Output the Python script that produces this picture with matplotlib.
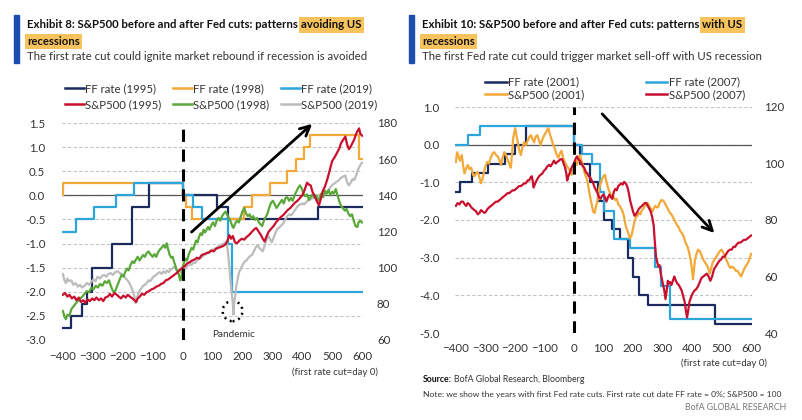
import matplotlib
matplotlib.use('Agg')
import matplotlib.pyplot as plt
from matplotlib.lines import Line2D
from matplotlib.patches import Rectangle, Ellipse

plt.rcParams['font.family'] = ['Lato', 'DejaVu Sans']

# ---------------- data: Exhibit 8 (cuts without recession) ----------------
ff1995_days = [-400, -372, -335, -320, -304, -235, -168, -113, 0, 114, 152, 451, 600]
ff1995_vals = [-2.75, -2.5, -2.25, -2.0, -1.5, -1.0, -0.25, 0.25, 0.0, -0.25, -0.5, -0.25, -0.25]

ff1998_days = [-400, -398, 0, 10, 31, 205, 232, 293, 349, 379, 407, 426, 589, 600]
ff1998_vals = [0.0, 0.25, 0.0, -0.25, -0.5, -0.25, 0.0, 0.25, 0.5, 0.75, 1.0, 1.25, 0.75, 0.75]

ff2019_days = [-400, -357, -296, -221, -161, 0, 34, 66, 152, 164, 600]
ff2019_vals = [-0.75, -0.5, -0.25, 0.0, 0.25, 0.0, -0.25, -0.5, -1.0, -2.0, -2.0]

sp1995_days = [-400, -393, -385, -378, -370, -362, -355, -347, -340, -332, -325, -318, -310, -302,
               -295, -288, -280, -272, -265, -258, -250, -243, -236, -228, -220, -213, -206, -198,
               -190, -183, -176, -168, -161, -155, -150, -143, -136, -128, -120, -112, -104, -96,
               -88, -80, -72, -64, -56, -48, -40, -32, -24, -16, -8, 0,
               8, 16, 24, 32, 40, 48, 56, 64, 72, 80, 88, 96, 104, 112, 120, 128, 136, 144, 150,
               156, 162, 168, 175, 182, 190, 198, 206, 214, 222, 230, 238, 246, 254, 262, 268, 274,
               280, 288, 296, 304, 312, 320, 328, 336, 344, 352, 360, 368, 376, 384, 392, 400, 408,
               416, 422, 428, 434, 440, 448, 456, 462, 468, 476, 484, 492, 500, 508, 516, 524, 530,
               538, 544, 550, 556, 562, 568, 574, 580, 586, 590, 594, 600]
sp1995_vals = [85, 86, 84, 85, 83, 84, 82, 83.5, 81, 82, 80.5, 82.5, 81.5, 83,
               82, 83.5, 82, 83, 81.5, 83.5, 84, 85.5, 84, 86, 85, 84, 83, 84.5,
               83.5, 85, 84, 83, 82, 81, 83, 84, 85.5, 85, 86.5, 87, 88, 88.5,
               89.5, 90, 91, 91.5, 93, 93.5, 94.5, 95.5, 96.5, 97.5, 99, 100,
               101, 102.5, 103, 104, 104.5, 105.5, 105, 107, 107.5, 108, 108.5, 109.5, 109, 110.5,
               111, 111.5, 112, 113, 115,
               118, 116, 117.5, 114, 113.5, 115, 116, 115.5, 117, 118, 119.5, 121, 122, 120, 118,
               116, 114.5, 117, 120, 121.5, 123, 125, 126.5, 128, 129, 130.5, 132, 133, 134.5,
               136, 137, 138.5, 140, 143, 147, 146, 145.5, 142, 140, 137, 134.5, 138, 142, 145,
               149, 154, 159, 161, 163.5, 166, 169, 171, 172.5, 168, 165.5, 167, 169, 171, 174,
               176, 177, 174, 173]

sp1998_days = [-400, -395, -390, -385, -378, -372, -365, -358, -350, -342, -335, -328, -320, -312,
               -305, -298, -290, -283, -276, -268, -260, -253, -246, -240, -234, -228, -222, -216,
               -210, -204, -198, -192, -186, -180, -174, -168, -162, -156, -150, -144, -138, -132,
               -126, -120, -114, -108, -100, -94, -88, -82, -76, -70, -64, -58, -53, -48, -43,
               -38, -33, -28, -23, -18, -13, -8, -4, 0,
               5, 10, 15, 20, 25, 30, 35, 40, 45, 50, 55, 60, 65, 70, 75, 80, 85, 90, 96, 102,
               108, 114, 120, 126, 132, 138, 144, 150, 156, 162, 166, 170, 176, 182, 188, 194,
               200, 206, 212, 218, 224, 230, 236, 242, 248, 254, 260, 266, 272, 278, 284, 290,
               296, 302, 308, 314, 320, 326, 332, 338, 344, 350, 356, 362, 368, 374, 380, 386,
               392, 398, 404, 410, 416, 422, 428, 434, 440, 446, 452, 458, 464, 470, 476, 482,
               488, 494, 500, 506, 512, 518, 524, 530, 536, 542, 548, 554, 560, 566, 572, 578,
               584, 588, 594, 600]
sp1998_vals = [76, 73, 71.5, 74, 73.5, 77, 78.5, 80, 81.5, 83, 84, 85.5, 87, 86.5,
               89, 88, 90, 89, 91, 90, 92.5, 91.5, 93, 90, 87.5, 86, 88.5, 91,
               93.5, 96, 95, 97.5, 99.5, 98.5, 101.5, 103.5, 102.5, 104.5, 106, 104, 105.5, 107,
               106, 108, 109, 107.5, 106, 107.5, 106, 108.5, 110, 111, 112.5, 111, 113.5, 110, 107,
               105.5, 106, 103, 100.5, 98, 96.5, 93, 95, 100,
               103, 105, 104, 107, 109, 111, 110, 112.5, 115, 114, 117, 119, 118, 121, 119.5, 121,
               122.5, 121, 123.5, 125,
               123, 126, 127.5, 126, 128.5, 130, 131, 129, 127, 125, 123, 122, 124.5, 126, 125, 128,
               131, 133, 130, 128.5, 129.5, 127, 128.5, 126.5, 127.5, 125.5, 124, 123, 126, 128, 130,
               133.5,
               136, 137, 135, 133, 134.5, 136, 137.5, 135.5, 138.5, 139, 137, 138.5, 137, 140, 142,
               144,
               145.5, 144, 141, 139.5, 140.5, 137.5, 139, 140.5, 139, 140, 137, 138.5, 141, 139,
               142.5, 141,
               143, 140, 142, 141, 143.5, 140, 136.5, 134, 133, 131.5, 132.5, 130, 128.5, 129.5,
               126, 123,
               122.5, 125, 126, 125]

sp2019_days = [-400, -395, -390, -385, -380, -372, -365, -358, -350, -343, -336, -328, -320, -313,
               -306, -298, -291, -284, -276, -269, -262, -255, -248, -240, -233, -225, -217, -210,
               -203, -196, -190, -184, -178, -172, -166, -161, -157, -153, -148, -143, -138, -132,
               -126, -120, -114, -108, -100, -94, -88, -82, -76, -70, -64, -58, -52, -46, -40,
               -34, -28, -22, -16, -10, -5, 0,
               6, 12, 18, 24, 30, 36, 42, 48, 54, 60, 66, 72, 78, 84, 90, 96, 102, 108, 114, 120,
               126, 132, 138, 144, 148, 152, 156, 160, 164, 167, 170, 172, 175, 178, 182, 186, 190,
               196, 202, 208, 214, 220, 226, 232, 238, 244, 250, 256, 262, 268, 274, 280, 286, 292,
               298, 304, 310, 316, 322, 328, 334, 340, 346, 352, 358, 364, 370, 376, 382, 388, 394,
               400, 406, 412, 418, 424, 430, 436, 442, 448, 454, 460, 466, 472, 478, 484, 490, 496,
               502, 508, 514, 520, 526, 532, 538, 544, 550, 556, 562, 568, 574, 580, 586, 592, 596,
               600]
sp2019_vals = [96.5, 93, 91.5, 94, 92.5, 93, 90.5, 91.5, 89.5, 90.5, 89, 90, 91.5, 90.5,
               92, 93.5, 92.5, 95, 94, 95.5, 96, 95, 96.5, 97, 96, 97.5, 98, 97,
               96.5, 95.5, 94, 93, 91.5, 89.5, 87, 84, 80.5, 83, 85.5, 87.5, 88.5, 90,
               90.5, 91.5, 93, 92.5, 94.5, 95.5, 96, 97, 97.5, 96.5, 98, 97, 98.5, 97.5, 99,
               99.5, 100.5, 99, 98, 99, 97.5, 100,
               99, 100.5, 101, 102, 101.5, 103, 102.5, 104, 105, 105.5, 106, 107, 107.5, 108.5, 108,
               109.5, 110, 110.5, 111, 112,
               111.5, 113, 113.5, 114, 113, 108, 101, 93, 86, 82, 74, 80, 83, 88, 92, 95.5, 98,
               100, 102, 103.5, 104, 105.5, 106.5, 107, 109, 111, 112.5, 111, 110, 109, 112, 115,
               117.5, 116,
               114, 116.5, 119, 121.5, 122, 123, 124, 125.5, 127.5, 129, 129.5, 129, 130.5, 132,
               133.5, 134.5, 135,
               135.5, 135, 136, 137, 137.5, 138, 138.5, 139, 140, 139.5, 140.5, 141, 140, 141, 142,
               143.5, 145,
               146, 146.5, 147.5, 148, 149, 150, 150.5, 151, 147, 145.5, 147, 149, 148.5, 151, 154,
               156, 157.5,
               158]

# ---------------- data: Exhibit 10 (cuts with recession) ----------------
ff2001_days = [-400, -385, -345, -290, -235, -200, -164, 0, 20, 55, 83, 100, 128, 156, 184, 201,
               220, 250, 476, 600]
ff2001_vals = [-1.25, -1.0, -0.75, -0.5, -0.25, 0.0, 0.5, 0.0, -0.5, -1.0, -1.5, -2.0, -2.25, -2.5,
               -3.0, -3.5, -4.0, -4.25, -4.75, -4.75]

ff2007_days = [-400, -360, -320, 0, 27, 61, 89, 100, 134, 190, 275, 295, 324, 600]
ff2007_vals = [0.0, 0.25, 0.5, 0.0, -0.25, -0.5, -1.25, -1.75, -2.5, -2.75, -3.25, -3.75, -4.625, -4.625]

sp2001_days = [-400, -396, -392, -386, -380, -375, -371, -366, -360, -354, -348, -342, -337, -332,
               -326, -320, -315, -310, -305, -300, -294, -288, -282, -276, -270, -264, -258, -252,
               -247, -242, -236, -230, -225, -220, -214, -210, -206, -202, -199, -195, -191, -186,
               -180, -175, -169, -163, -157, -151, -146, -140, -135, -130, -124, -118, -113, -107,
               -101, -95, -90, -87, -82, -76, -70, -64, -58, -53, -48, -42, -37, -31, -26, -20,
               -14, -8, -4, 0,
               5, 10, 15, 20, 25, 30, 35, 40, 45, 50, 55, 60, 65, 70, 75, 80, 85, 90, 95, 100, 105,
               110, 115, 120, 125, 130, 135, 140, 145, 150, 155, 160, 165, 170, 175, 180, 185, 190,
               195, 200, 205, 210, 215, 220, 225, 230, 235, 240, 245, 250, 255, 260, 265, 270, 275,
               280, 285, 290, 295, 300, 305, 310, 315, 320, 325, 330, 335, 340, 345, 350, 355, 360,
               365, 370, 375, 380, 385, 390, 395, 400, 403, 406, 410, 415, 420, 426, 432, 438, 444,
               450, 456, 460, 465, 470, 476, 482, 488, 494, 500, 506, 512, 518, 524, 530, 536, 542,
               548, 554, 560, 566, 572, 578, 584, 590, 595, 600]
sp2001_vals = [100.5, 104, 103, 101, 103, 99, 96.5, 98, 99.5, 98, 98.5, 96, 95.5, 96.5,
               97, 95, 93, 94.5, 97, 99, 100.5, 100, 102, 103.5, 104, 103, 102.5, 101,
               99.5, 102, 104, 103, 101.5, 100, 98.5, 103, 109, 111, 112.5, 110, 108, 105,
               103, 105.5, 107.5, 106.5, 108, 109.5, 110, 108.5, 107.5, 109.5, 110, 108, 106.5, 108.5,
               110, 111, 112, 112.5, 110.5, 108.5, 106.5, 105, 103, 102, 103.5, 104.5, 102, 100.5,
               99.5, 98.5, 97.5, 96, 97.5, 100,
               101, 99.5, 101.5, 103, 101, 99.5, 97, 95.5, 94, 91, 88, 85.5, 83, 82.5, 85, 87, 91,
               93, 94.5, 95.5, 96,
               93.5, 91.5, 90, 89, 88.5, 88, 87, 87.5, 85.5, 85, 84, 83, 81, 78, 76.5, 75, 73.5,
               74.5, 77, 79.5, 81, 81.5, 82.5, 82, 83.5, 84, 85, 85.5, 86, 85, 84, 83, 84, 85,
               84.5, 84.5, 86, 87, 87, 86.5, 85.5, 84.5, 83.5, 82.5, 82, 81, 80, 79, 78, 77.5, 76,
               75.5, 74.5, 73, 71.5, 70.5, 68.5, 66, 62, 59, 62, 66, 68, 69.5, 69, 67.5, 66, 65,
               64, 62.5, 61, 63, 65, 66, 67, 68, 69, 69.5, 68.5, 67, 65.5, 64, 63, 63.5, 63,
               62, 62, 61, 60, 61.5, 63, 64, 65, 66.5, 68]

sp2007_days = [-400, -394, -388, -382, -376, -370, -365, -360, -354, -348, -343, -337, -331, -326,
               -320, -315, -309, -303, -298, -292, -287, -281, -275, -270, -264, -258, -253, -247,
               -242, -236, -230, -225, -219, -214, -208, -202, -197, -191, -186, -180, -174, -168,
               -163, -157, -152, -147, -143, -140, -137, -133, -129, -124, -118, -113, -107, -101,
               -96, -90, -84, -79, -73, -68, -62, -57, -51, -46, -40, -35, -30, -26, -23, -19,
               -15, -10, -6, -3, 0,
               5, 10, 15, 20, 25, 30, 35, 40, 45, 50, 55, 60, 65, 70, 75, 80, 85, 90, 95, 100, 105,
               110, 115, 120, 125, 130, 135, 140, 145, 150, 155, 160, 165, 170, 175, 180, 185, 190,
               195, 200, 205, 210, 215, 220, 225, 230, 235, 240, 245, 250, 255, 260, 265, 270, 274,
               278, 282, 286, 290, 294, 298, 302, 306, 310, 314, 318, 322, 326, 330, 335, 340, 345,
               350, 355, 360, 365, 370, 375, 379, 383, 387, 391, 396, 402, 408, 414, 420, 426, 432,
               438, 444, 450, 456, 462, 468, 474, 480, 486, 492, 498, 504, 510, 516, 522, 528, 534,
               540, 546, 552, 558, 564, 570, 576, 582, 588, 594, 600]
sp2007_vals = [85, 86, 85.5, 86.5, 86.5, 85.5, 85, 86, 85.5, 84.5, 84, 83.5, 83, 82,
               82.5, 83.5, 83, 82.5, 83, 84, 84.5, 85, 85.5, 86, 86.5, 86.5, 87, 87.5,
               88, 88.5, 89, 89.5, 89.5, 90, 90.5, 90.5, 91, 91.5, 92, 92, 92.5, 93,
               93, 94, 94, 95, 95.5, 94, 91.5, 92.5, 93.5, 94.5, 95.5, 96, 96.5, 97.5,
               98, 99, 99.5, 99, 100, 101, 100, 100.5, 101, 101.5, 101.5, 100, 98.5, 96.5, 94, 95.5,
               96.5, 98, 99, 99.5, 100,
               101.5, 102.5, 101.5, 101, 100, 99, 98.5, 97, 96.5, 95.5, 95, 94, 93, 91.5, 90.5,
               89.5, 88, 87.5, 88.5, 89, 88,
               86.5, 88, 89, 88, 87.5, 90, 91, 90.5, 92, 92.5, 93, 92.5, 93.5, 93, 92, 90, 87,
               85, 83, 81.5, 82, 83, 84, 84.5, 85, 85.5, 86, 86, 85, 84, 83, 81, 78, 72,
               67, 65, 63.5, 64, 61, 59, 57, 55, 52, 55, 58.5, 57.5, 58, 57, 58.5, 60, 58.5,
               57.5, 57, 56, 55, 53, 51, 48, 45.5, 48, 51, 52.5, 54, 55, 55.5, 56.5, 58, 59.5,
               60, 60.5, 61, 60, 58.5, 60, 62.5, 63.5, 64.5, 65.5, 66, 67, 67, 68, 69, 69.5, 69.5,
               70.5, 70.5, 71.5, 72, 72, 72.5, 73, 73, 73.5, 74, 74.5]

# ---------------- style ----------------
NAVY = '#1c2b5e'
ORANGE = '#f3a83a'
BLUE = '#2ba5dc'
RED = '#c8102e'
GREEN = '#5aa83a'
GRAY = '#bcbcbc'
HILITE = '#f8c35c'
BARBLUE = '#1a4fb0'

W, H = 802, 420
fig = plt.figure(figsize=(W / 100, H / 100), dpi=100)


def fx(px):
    return px / W


def fy(py):
    return 1 - py / H


def style_axes(ax, ax2, xpad, lpad, rpad):
    for a in (ax, ax2):
        for s in a.spines.values():
            s.set_visible(False)
        a.tick_params(length=0, labelsize=8.3, labelcolor='#333333')
    ax.tick_params(axis='x', pad=xpad)
    ax.tick_params(axis='y', pad=lpad)
    ax2.tick_params(axis='y', pad=rpad)
    ax.set_xlim(-403, 603)
    ax.set_xticks(range(-400, 601, 100))
    ax.grid(axis='y', color='#c4c4c4', linestyle=(0, (3, 2)), linewidth=0.8)
    ax.axhline(0, color='#555555', linewidth=0.9)
    ax.yaxis.set_major_formatter(matplotlib.ticker.FormatStrFormatter('%.1f'))


def write_title(px, prefix, marked, sub):
    r = fig.canvas.get_renderer()
    t = fig.text(fx(px), fy(25), prefix, fontsize=8.2, fontweight='bold', va='center', color='#111111')
    bb = t.get_window_extent(r)
    fig.text(bb.x1 / W + fx(3), fy(25), marked, fontsize=8.2, fontweight='bold', va='center',
             color='#111111', bbox=dict(fc=HILITE, ec='none', pad=1.6))
    fig.text(fx(px), fy(41.5), 'recessions', fontsize=8.2, fontweight='bold', va='center',
             color='#111111', bbox=dict(fc=HILITE, ec='none', pad=1.6))
    fig.text(fx(px), fy(57), sub, fontsize=8.2, va='center', color='#333333')
    fig.patches.append(Rectangle((fx(px - 13), fy(63)), fx(5), 48 / H, transform=fig.transFigure,
                                 color=BARBLUE, figure=fig))


# ---------------- Exhibit 8 ----------------
ax = fig.add_axes([fx(62), fy(340), fx(363 - 62), (340 - 123) / H])
ax2 = ax.twinx()
ax.set_ylim(-3.0, 1.5)
ax.set_yticks([-3.0, -2.5, -2.0, -1.5, -1.0, -0.5, 0.0, 0.5, 1.0, 1.5])
ax2.set_ylim(60, 180)
ax2.set_yticks(range(60, 181, 20))
style_axes(ax, ax2, 8, 12, 10)

ax.step(ff1995_days, ff1995_vals, where='post', color=NAVY, lw=1.6)
ax.step(ff1998_days, ff1998_vals, where='post', color=ORANGE, lw=1.6)
ax.step(ff2019_days, ff2019_vals, where='post', color=BLUE, lw=1.6)
ax2.plot(sp2019_days, sp2019_vals, color=GRAY, lw=1.6)
ax2.plot(sp1998_days, sp1998_vals, color=GREEN, lw=1.6)
ax2.plot(sp1995_days, sp1995_vals, color=RED, lw=1.6)

ax2.axvline(0, color='black', lw=2.2, linestyle=(0, (4, 2.5)))
ax2.annotate('', xy=(440, 1.52), xycoords=ax.transData, xytext=(23, -0.8), textcoords=ax.transData,
             arrowprops=dict(arrowstyle='->,head_length=0.7,head_width=0.35', lw=2, color='black'))
ax2.add_patch(Ellipse((167, -2.4), 66, 0.42, transform=ax.transData, fill=False, ec='black',
                      lw=1.8, linestyle=(0, (0.8, 1.6))))
ax.text(172, -2.88, 'Pandemic', ha='center', va='center', fontsize=7.2, color='#333333')
fig.text(fx(378), fy(372), '(first rate cut=day 0)', ha='right', va='center', fontsize=6.9,
         color='#333333')

h8 = [Line2D([], [], color=NAVY, lw=1.8), Line2D([], [], color=RED, lw=1.8),
      Line2D([], [], color=ORANGE, lw=1.8), Line2D([], [], color=GREEN, lw=1.8),
      Line2D([], [], color=BLUE, lw=1.8), Line2D([], [], color=GRAY, lw=1.8)]
l8 = ['FF rate (1995)', 'S&P500 (1995)', 'FF rate (1998)', 'S&P500 (1998)', 'FF rate (2019)',
      'S&P500 (2019)']
fig.legend(h8, l8, ncol=3, loc='center', bbox_to_anchor=(fx(221), fy(96.5)), frameon=False,
           fontsize=8.2, handlelength=1.7, handletextpad=0.1, columnspacing=1.0, labelspacing=0.45,
           labelcolor='#333333')

write_title(27, 'Exhibit 8: S&P500 before and after Fed cuts: patterns', 'avoiding US',
            'The first rate cut could ignite market rebound if recession is avoided')

# ---------------- Exhibit 10 ----------------
bx = fig.add_axes([fx(455), fy(333), fx(752 - 455), (333 - 107) / H])
bx2 = bx.twinx()
bx.set_ylim(-5.0, 1.0)
bx.set_yticks([-5.0, -4.0, -3.0, -2.0, -1.0, 0.0, 1.0])
bx2.set_ylim(40, 120)
bx2.set_yticks(range(40, 121, 20))
style_axes(bx, bx2, 7, 11, 9)

bx.step(ff2001_days, ff2001_vals, where='post', color=NAVY, lw=1.6)
bx.step(ff2007_days, ff2007_vals, where='post', color=BLUE, lw=1.6)
bx2.plot(sp2001_days, sp2001_vals, color=ORANGE, lw=1.6)
bx2.plot(sp2007_days, sp2007_vals, color=RED, lw=1.6)

bx2.axvline(0, color='black', lw=2.2, linestyle=(0, (4, 2.5)))
bx2.annotate('', xy=(482, -2.4), xycoords=bx.transData, xytext=(89, 0.87), textcoords=bx.transData,
             arrowprops=dict(arrowstyle='->,head_length=0.7,head_width=0.35', lw=2, color='black'))
fig.text(fx(767), fy(363), '(first rate cut=day 0)', ha='right', va='center', fontsize=6.9,
         color='#333333')

h10 = [Line2D([], [], color=NAVY, lw=1.8), Line2D([], [], color=ORANGE, lw=1.8),
       Line2D([], [], color=BLUE, lw=1.8), Line2D([], [], color=RED, lw=1.8)]
l10 = ['FF rate (2001)', 'S&P500 (2001)', 'FF rate (2007)', 'S&P500 (2007)']
fig.legend(h10, l10, ncol=2, loc='center', bbox_to_anchor=(fx(615), fy(88.5)), frameon=False,
           fontsize=8.2, handlelength=1.9, handletextpad=0.1, columnspacing=5.4, labelspacing=0.15,
           labelcolor='#333333')

write_title(422, 'Exhibit 10: S&P500 before and after Fed cuts: patterns', 'with US',
            'The first Fed rate cut could trigger market sell-off with US recession')

# ---------------- footer ----------------
r = fig.canvas.get_renderer()
s = fig.text(fx(423), fy(380), 'Source:', fontsize=6.3, fontweight='bold', va='center', color='#111111')
sb = s.get_window_extent(r)
fig.text(sb.x1 / W + fx(2), fy(380), 'BofA Global Research, Bloomberg', fontsize=6.3, va='center',
         color='#333333')
fig.text(fx(423), fy(394), 'Note: we show the years with first Fed rate cuts. First rate cut date FF rate = 0%; '
         'S&P500 = 100', fontsize=6.1, va='center', color='#333333')
fig.text(fx(786), fy(407), 'BofA GLOBAL RESEARCH', fontsize=6.3, ha='right', va='center', color='#777777')

fig.savefig('out.png', dpi=100)
